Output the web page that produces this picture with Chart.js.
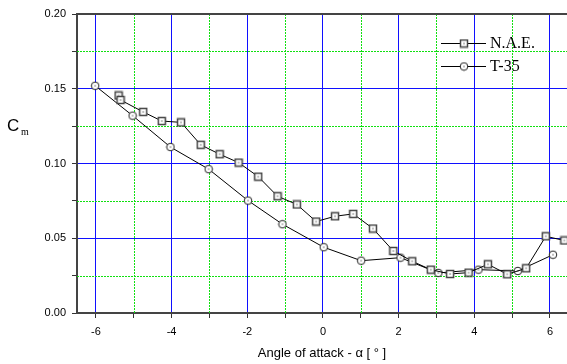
<!DOCTYPE html>
<html>
<head>
<meta charset="utf-8">
<script src="https://cdn.jsdelivr.net/npm/chart.js@4"></script>
<style>
  html, body { margin: 0; padding: 0; background: #fff; overflow: hidden; }
  canvas { display: block; }
</style>
</head>
<body>
<canvas id="myChart" width="567" height="364"></canvas>
<script>
// Data
const naeAlpha = [-5.40, -5.35, -4.75, -4.26, -3.75, -3.23, -2.73, -2.23, -1.71, -1.20, -0.69, -0.18, 0.32, 0.80, 1.32, 1.86, 2.36, 2.85, 3.36, 3.85, 4.36, 4.87, 5.37, 5.89, 6.38];
const naeCm = [0.1455, 0.1425, 0.1345, 0.1284, 0.1275, 0.1125, 0.1062, 0.1006, 0.0912, 0.0781, 0.0726, 0.0612, 0.0647, 0.0663, 0.0565, 0.0415, 0.0346, 0.0290, 0.0261, 0.0270, 0.0326, 0.0259, 0.0299, 0.0513, 0.0485];
const t35Alpha = [-6.02, -5.03, -4.03, -3.02, -1.98, -1.07, 0.02, 1.01, 2.05, 3.05, 4.11, 5.15, 6.08];
const t35Cm = [0.152, 0.132, 0.111, 0.0962, 0.0752, 0.0594, 0.044, 0.035, 0.037, 0.0268, 0.029, 0.0281, 0.039];

const xTicks = [-6, -5, -4, -3, -2, -1, 0, 1, 2, 3, 4, 5, 6];
const yTicks = [0, 0.025, 0.05, 0.075, 0.1, 0.125, 0.15, 0.175, 0.2];
const xMinorGrid = [-5, -3, -1, 1, 3, 5];
const yMinorGrid = [0.025, 0.075, 0.125, 0.175];

// Marker pictures (open square / open circle with a centre dot)
function makeMarker(kind) {
  const c = document.createElement('canvas');
  c.width = 10; c.height = 10;
  const g = c.getContext('2d');
  g.fillStyle = '#fff';
  g.strokeStyle = kind === 'square' ? '#444' : '#222';
  g.lineWidth = kind === 'square' ? 1.5 : 1;
  if (kind === 'square') {
    g.fillRect(1.5, 1.5, 7, 7);
    g.strokeRect(1.5, 1.5, 7, 7);
  } else {
    g.beginPath();
    g.arc(5, 5, 3.8, 0, Math.PI * 2);
    g.fill();
    g.stroke();
  }
  g.fillStyle = '#000';
  g.fillRect(4.5, 4.5, 1, 1);
  return c;
}
const squareMarker = makeMarker('square');
const circleMarker = makeMarker('circle');

function toPoints(xs, ys) {
  return xs.map((x, i) => ({ x: x, y: ys[i] }));
}

// Dotted green minor grid, top frame line, y title and legend
const extrasPlugin = {
  id: 'extras',
  beforeDatasetsDraw(chart) {
    const ctx = chart.ctx;
    const area = chart.chartArea;
    const xs = chart.scales.x;
    const ys = chart.scales.y;
    ctx.save();
    ctx.strokeStyle = '#10e010';
    ctx.lineWidth = 1;
    ctx.setLineDash([2, 1]);
    xMinorGrid.forEach(v => {
      const px = Math.round(xs.getPixelForValue(v)) + 0.5;
      ctx.beginPath();
      ctx.moveTo(px, area.top);
      ctx.lineTo(px, area.bottom);
      ctx.stroke();
    });
    yMinorGrid.forEach(v => {
      const py = Math.round(ys.getPixelForValue(v)) + 0.5;
      ctx.beginPath();
      ctx.moveTo(area.left, py);
      ctx.lineTo(area.right, py);
      ctx.stroke();
    });
    ctx.setLineDash([]);
    ctx.strokeStyle = '#444';
    ctx.lineWidth = 2;
    ctx.beginPath();
    ctx.moveTo(area.left - 1, area.top);
    ctx.lineTo(area.right, area.top);
    ctx.stroke();
    ctx.restore();
  },
  afterDraw(chart) {
    const ctx = chart.ctx;
    ctx.save();
    // y axis title: C with subscript m
    ctx.fillStyle = '#000';
    ctx.textBaseline = 'alphabetic';
    ctx.font = '17px Arial, "Liberation Sans", sans-serif';
    ctx.fillText('C', 7, 131);
    ctx.font = '10px "Liberation Serif", "Times New Roman", serif';
    ctx.fillText('m', 21, 135);

    // legend
    const rows = [
      { label: chart.data.datasets[0].label, img: squareMarker, y: 43 },
      { label: chart.data.datasets[1].label, img: circleMarker, y: 66 }
    ];
    rows.forEach(r => {
      ctx.strokeStyle = '#000';
      ctx.lineWidth = 1;
      ctx.beginPath();
      ctx.moveTo(441, r.y + 0.5);
      ctx.lineTo(486, r.y + 0.5);
      ctx.stroke();
      ctx.drawImage(r.img, 459, r.y - 4.5);
      ctx.fillStyle = '#000';
      ctx.font = '16px "Liberation Serif", "Times New Roman", serif';
      ctx.textBaseline = 'middle';
      ctx.fillText(r.label, 490, r.y + 1);
    });
    ctx.restore();
  }
};

const canvas = document.getElementById('myChart');

const chartData = {
  datasets: [
    {
      label: 'N.A.E.',
      data: toPoints(naeAlpha, naeCm),
      borderColor: '#000',
      borderWidth: 1,
      pointStyle: squareMarker,
      pointRadius: 5,
      showLine: true
    },
    {
      label: 'T-35',
      data: toPoints(t35Alpha, t35Cm),
      borderColor: '#000',
      borderWidth: 1,
      pointStyle: circleMarker,
      pointRadius: 5,
      showLine: true
    }
  ]
};

const chartOptions = {
  responsive: false,
  animation: false,
  layout: { autoPadding: false, padding: { left: 0, right: 0, top: 14, bottom: 0 } },
  plugins: {
    legend: { display: false },
    tooltip: { enabled: false }
  },
  scales: {
    x: {
      type: 'linear',
      min: -6.5,
      max: 6.45,
      afterBuildTicks: (scale) => { scale.ticks = xTicks.map(v => ({ value: v })); },
      afterFit: (scale) => {
        scale.height = 51;
        scale.paddingRight = 0;
        scale.paddingLeft = 0;
      },
      ticks: {
        color: '#000',
        font: { family: 'Arial, "Liberation Sans", sans-serif', size: 11 },
        padding: 7,
        maxRotation: 0,
        autoSkip: false,
        callback: (v) => (v % 2 === 0 ? String(v) : '')
      },
      grid: {
        color: (c) => (c.tick && c.tick.value % 2 === 0 ? '#1010ff' : 'rgba(0,0,0,0)'),
        lineWidth: 1,
        tickColor: '#333',
        tickLength: 5
      },
      border: { color: '#444', width: 2 },
      title: {
        display: true,
        text: 'Angle of attack - α [ ° ]',
        color: '#000',
        font: { family: 'Arial, "Liberation Sans", sans-serif', size: 13 },
        padding: { top: 2, bottom: 3 }
      }
    },
    y: {
      type: 'linear',
      min: 0,
      max: 0.2,
      afterBuildTicks: (scale) => { scale.ticks = yTicks.map(v => ({ value: v })); },
      afterFit: (scale) => { scale.width = 77; },
      ticks: {
        color: '#000',
        font: { family: 'Arial, "Liberation Sans", sans-serif', size: 11 },
        padding: 6,
        autoSkip: false,
        callback: (v) => {
          const k = Math.round(v * 1000);
          return k % 50 === 0 ? (k / 1000).toFixed(2) : '';
        }
      },
      grid: {
        color: (c) => {
          const k = c.tick ? Math.round(c.tick.value * 1000) : -1;
          return (k === 50 || k === 100 || k === 150) ? '#1010ff' : 'rgba(0,0,0,0)';
        },
        lineWidth: 1,
        tickColor: '#333',
        tickLength: 5
      },
      border: { color: '#444', width: 2 }
    }
  }
};

const cmChart = new Chart(canvas, {
  type: 'scatter',
  data: chartData,
  options: chartOptions,
  plugins: [extrasPlugin]
});
</script>
</body>
</html>
